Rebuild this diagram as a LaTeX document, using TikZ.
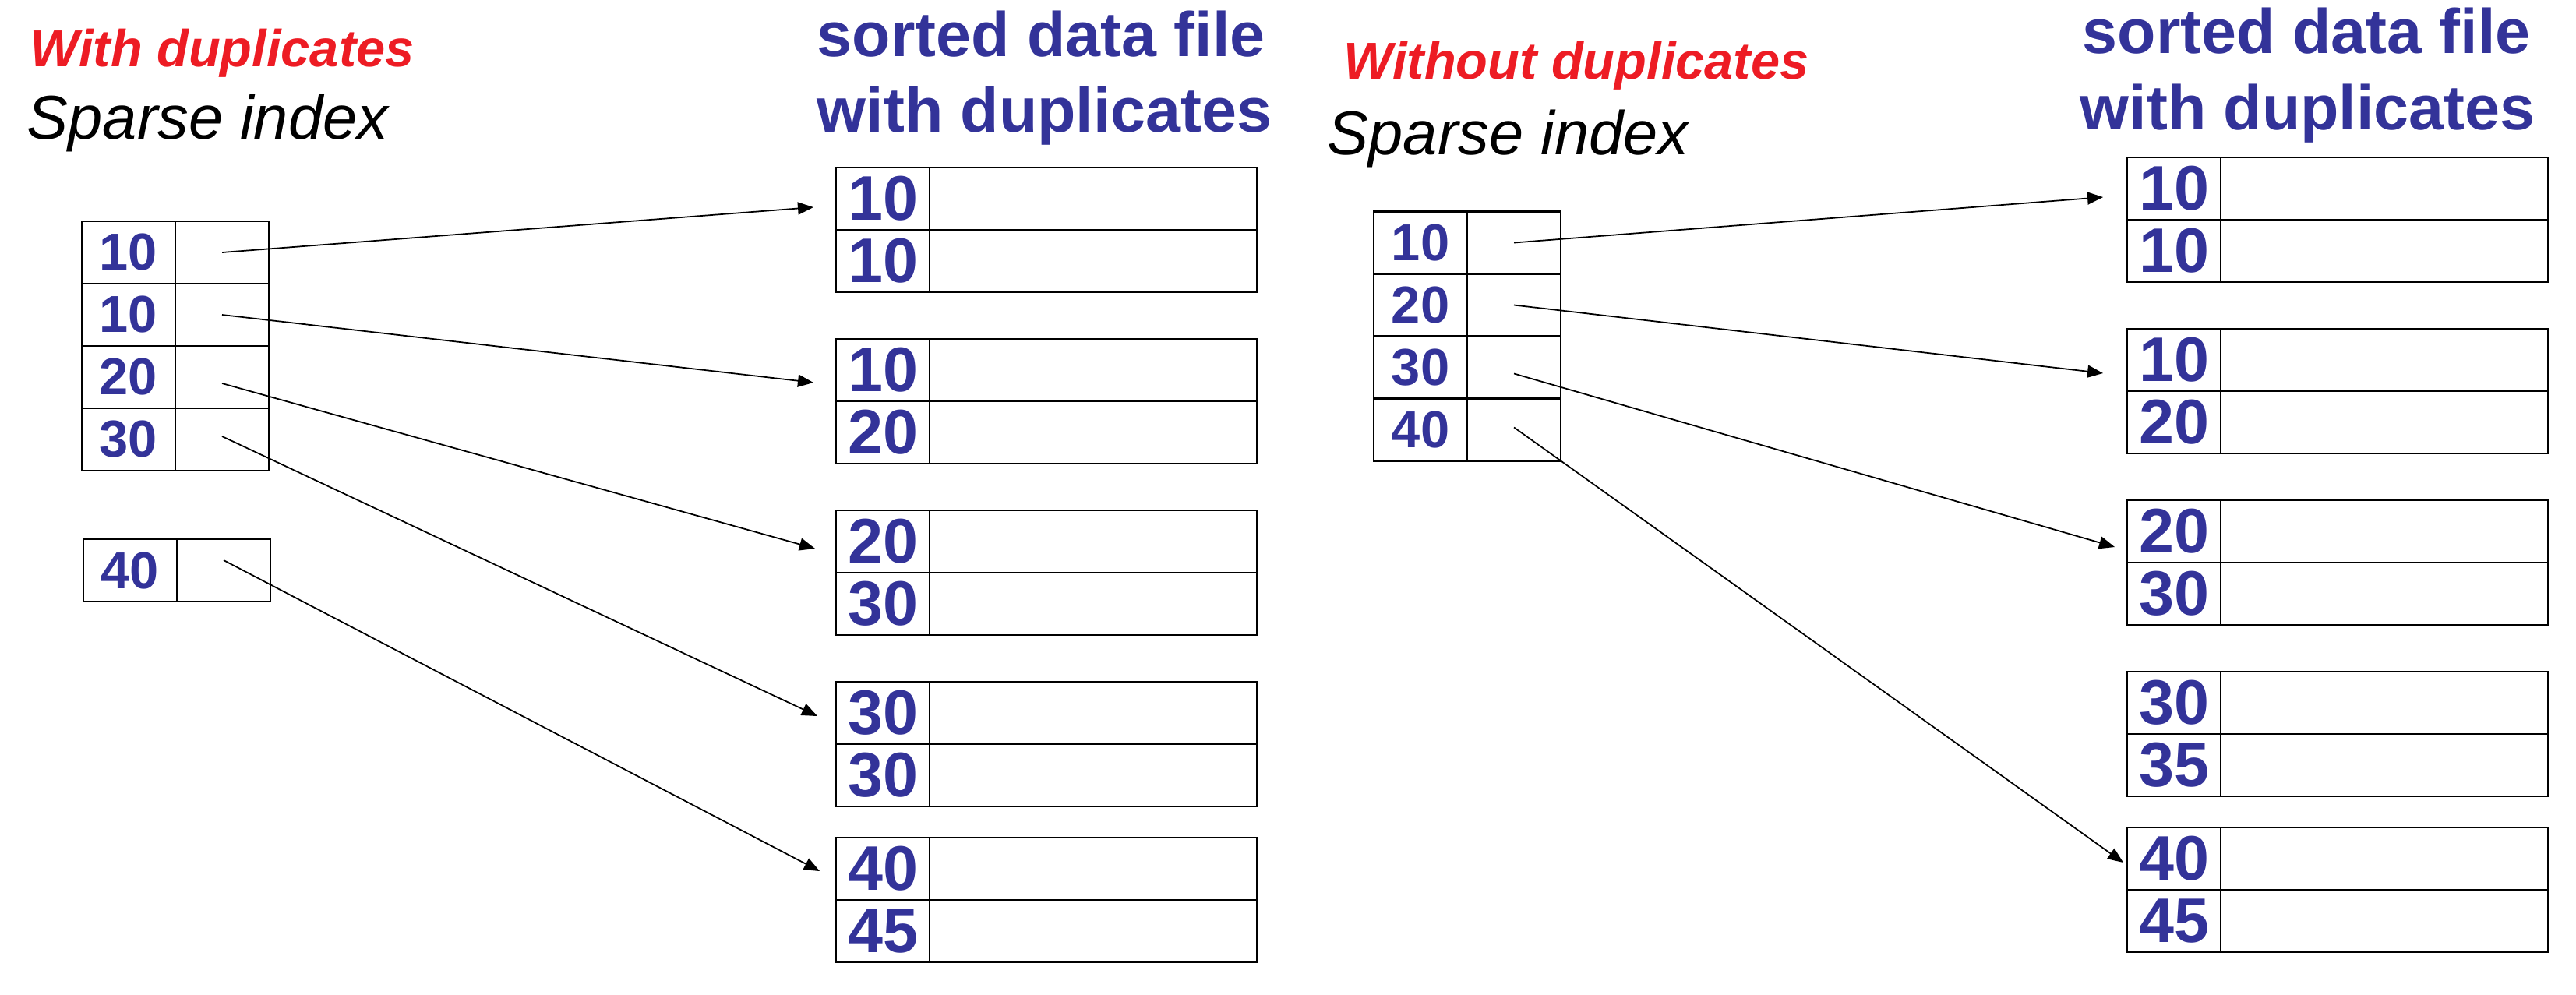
\documentclass[tikz,border=0pt]{standalone}
\usepackage{fontspec}
\setmainfont{Liberation Sans}
\usetikzlibrary{positioning,arrows.meta}

\definecolor{keyblue}{RGB}{51,51,153}
\definecolor{notered}{RGB}{237,28,36}

\tikzset{
  cell/.style={draw, line width=0.7pt, minimum height=0.8cm, inner sep=0pt, outer sep=0pt},
  datakey/.style={cell, minimum width=1.2cm, text=keyblue, font=\fontsize{23}{23}\selectfont\bfseries},
  datarest/.style={cell, minimum width=4.2cm},
  idxkey/.style={cell, minimum width=1.2cm, text=keyblue, font=\fontsize{19}{19}\selectfont\bfseries},
  idxptr/.style={cell, minimum width=1.2cm},
  ptr/.style={-{Triangle[length=0.2cm,width=0.16cm]}, line width=0.5pt},
  heading/.style={anchor=base west, inner sep=0pt, text=keyblue, font=\fontsize{23}{23}\selectfont\bfseries},
  note/.style={anchor=base west, inner sep=0pt, text=notered, font=\fontsize{19}{19}\selectfont\bfseries\itshape},
  kind/.style={anchor=base west, inner sep=0pt, font=\fontsize{22.6}{22.6}\selectfont\itshape}
}

\begin{document}
\begin{tikzpicture}
  \useasboundingbox (0,0) rectangle (33.06,-12.76);

  % left: with duplicates
  \node[note] (Lnote) at (0.38,-0.85) {With duplicates};
  \node[kind] (Lkind) at (0.34,-1.78) {Sparse index};
  \node[heading] (Lhead1) at (10.48,-0.725) {sorted data file};
  \node[heading] (Lhead2) at (10.48,-1.69) {with duplicates};

  \foreach \n/\x/\y/\k in {1/1.05/2.84/10, 2/1.05/3.64/10, 3/1.05/4.44/20, 4/1.05/5.24/30, 5/1.07/6.92/40}
  { \node[idxkey, anchor=north west] (Li\n) at (\x,-\y) {\k};
    \node[idxptr, right=0pt of Li\n] (Lp\n) {}; }

  \foreach \n/\y/\a/\b in {1/2.15/10/10, 2/4.35/10/20, 3/6.55/20/30, 4/8.75/30/30, 5/10.75/40/45}
  { \node[datakey, anchor=north west] (La\n) at (10.73,-\y) {\a};
    \node[datarest, right=0pt of La\n] (Lar\n) {};
    \node[datakey, below=0pt of La\n] (Lb\n) {\b};
    \node[datarest, right=0pt of Lb\n] (Lbr\n) {}; }

  \foreach \i/\s/\dx/\dy in {1/0/-0.29/-0.11, 2/0/-0.29/-0.16, 3/-0.08/-0.27/-0.09, 4/0.04/-0.24/-0.04, 5/0.13/-0.21/-0.03}
    \draw[ptr] ([yshift=\s cm]Lp\i.center) -- ([xshift=\dx cm,yshift=\dy cm]La\i.west);

  % right: without duplicates
  \node[note] (Rnote) at (17.24,-1.015) {Without duplicates};
  \node[kind] (Rkind) at (17.03,-1.98) {Sparse index};
  \node[heading] (Rhead1) at (26.72,-0.68) {sorted data file};
  \node[heading] (Rhead2) at (26.69,-1.66) {with duplicates};

  \foreach \n/\y/\k in {1/2.715/10, 2/3.515/20, 3/4.315/30, 4/5.115/40}
  { \node[idxkey, anchor=north west] (Ri\n) at (17.63,-\y) {\k};
    \node[idxptr, right=0pt of Ri\n] (Rp\n) {}; }

  \foreach \n/\y/\a/\b in {1/2.02/10/10, 2/4.22/10/20, 3/6.42/20/30, 4/8.62/30/35, 5/10.62/40/45}
  { \node[datakey, anchor=north west] (Ra\n) at (27.30,-\y) {\a};
    \node[datarest, right=0pt of Ra\n] (Rar\n) {};
    \node[datakey, below=0pt of Ra\n] (Rb\n) {\b};
    \node[datarest, right=0pt of Rb\n] (Rbr\n) {}; }

  \foreach \i/\j/\s/\dx/\dy in {1/1/0/-0.31/-0.11, 2/2/0/-0.31/-0.17, 3/3/-0.08/-0.16/-0.20, 4/5/0.03/-0.05/-0.05}
    \draw[ptr] ([yshift=\s cm]Rp\i.center) -- ([xshift=\dx cm,yshift=\dy cm]Ra\j.west);
\end{tikzpicture}
\end{document}
